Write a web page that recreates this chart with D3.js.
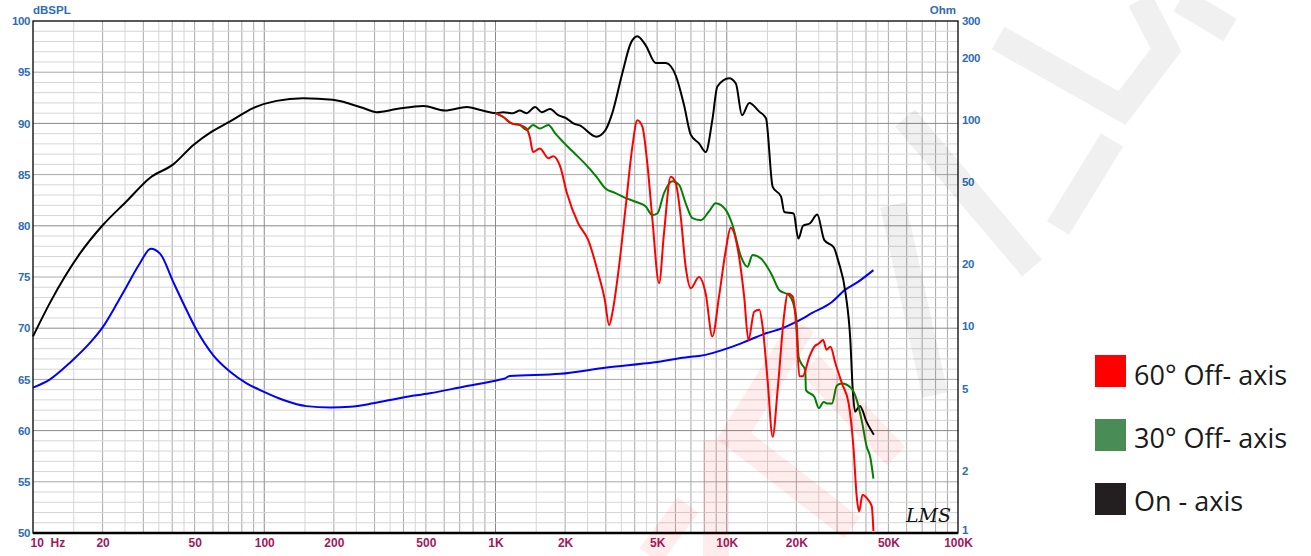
<!DOCTYPE html>
<html>
<head>
<meta charset="utf-8">
<script src="https://cdn.jsdelivr.net/npm/d3@7"></script>
<style>
  body { margin: 0; background: #fff; }
  svg { display: block; }
</style>
</head>
<body>
<svg id="chart" width="1311" height="556"></svg>
<script>
// on-axis response (Hz, dB)
var freqOn = [10, 11.85, 15.97, 20.1, 25.4, 32.1, 40.4, 49.4, 59.3, 71.2, 89.5, 113, 147, 198, 268, 306, 373, 488, 605, 753, 861, 1012, 1077, 1191, 1273, 1361, 1484, 1585, 1722, 1867, 2027, 2170, 2314, 2729, 2990, 3199, 3535, 3841, 4104, 4456, 4928, 5445, 6014, 6535, 6988, 7586, 8106, 8665, 9110, 10240, 10950, 11640, 12510, 13830, 14780, 15800, 17170, 17740, 19460, 20400, 21380, 22940, 24620, 26420, 29000, 30420, 32650, 34220, 35040, 35880, 37620, 40340, 43260];
var splOn = [69.2, 72.5, 77.3, 80.1, 82.4, 84.7, 86.0, 87.9, 89.2, 90.2, 91.5, 92.2, 92.45, 92.3, 91.5, 91.1, 91.4, 91.7, 91.25, 91.6, 91.3, 91.0, 91.1, 91.0, 91.25, 91.0, 91.6, 91.1, 91.4, 90.8, 90.5, 90.0, 89.8, 88.7, 89.35, 91.0, 94.9, 97.8, 98.5, 97.65, 95.9, 95.9, 94.7, 91.8, 88.9, 88.05, 87.2, 90.35, 93.6, 94.4, 93.9, 90.8, 92.0, 91.15, 90.5, 83.8, 82.85, 81.35, 81.2, 78.75, 80.0, 80.25, 81.1, 78.6, 77.9, 76.5, 73.4, 68.9, 64.1, 61.85, 62.4, 60.8, 59.6];

// 60 deg off-axis
var freq60 = [1000, 1077, 1173, 1273, 1361, 1406, 1454, 1555, 1693, 1779, 1904, 2036, 2277, 2518, 2782, 2968, 3100, 3199, 3420, 3657, 3906, 4104, 4313, 4534, 4770, 5099, 5355, 5726, 6014, 6323, 6644, 6988, 7586, 8106, 8665, 9260, 9900, 10400, 11300, 11890, 12410, 13140, 13830, 14290, 15020, 15800, 16600, 17740, 18340, 19270, 20040, 20600, 21290, 22760, 23920, 25010, 26110, 27000, 28090, 29480, 31500, 33670, 35300, 36480, 37350, 38620, 41000, 42380, 43080];
var spl60 = [91.0, 90.65, 90.0, 89.85, 89.5, 88.7, 87.2, 87.55, 86.6, 86.8, 85.8, 83.2, 80.25, 78.6, 75.35, 72.8, 70.3, 71.45, 76.0, 81.9, 87.7, 90.3, 89.7, 86.1, 80.6, 74.4, 79.3, 84.8, 84.2, 80.9, 76.0, 73.9, 75.0, 73.4, 69.2, 73.1, 77.6, 79.8, 77.0, 73.1, 68.85, 71.6, 71.8, 70.15, 64.9, 59.4, 64.0, 71.45, 73.4, 73.1, 69.8, 65.3, 65.3, 67.2, 68.2, 68.5, 68.85, 67.9, 68.2, 66.6, 64.6, 62.65, 58.4, 53.55, 52.1, 53.7, 53.2, 52.6, 50.2];

// 30 deg off-axis
var freq30 = [1000, 1077, 1173, 1273, 1361, 1454, 1555, 1693, 1816, 1958, 2170, 2477, 2729, 2990, 3304, 3657, 4036, 4456, 4770, 5013, 5355, 5818, 6220, 6644, 7106, 7719, 8380, 8958, 9900, 10580, 11520, 12290, 12930, 14060, 15550, 16890, 18660, 19940, 20460, 20950, 21850, 22000, 23920, 25010, 26250, 27150, 28500, 29940, 31500, 34700, 36480, 38330, 40320, 41710, 43080];
var spl30 = [91.0, 90.65, 90.0, 89.85, 89.35, 89.85, 89.5, 89.85, 89.0, 88.2, 87.2, 85.9, 84.8, 83.65, 83.2, 82.7, 82.35, 81.9, 81.05, 81.2, 83.2, 84.35, 84.0, 82.2, 80.75, 80.55, 81.4, 82.2, 81.55, 80.1, 77.0, 76.0, 77.15, 76.8, 75.35, 73.7, 73.2, 71.2, 67.2, 66.6, 65.9, 63.95, 63.3, 62.2, 62.8, 62.65, 62.65, 64.4, 64.6, 64.1, 63.0, 61.0, 58.4, 57.45, 55.3];

// impedance (Hz, Ohm)
var freqZ = [10, 11.85, 14.45, 17.66, 20.1, 22.25, 25.4, 29.0, 32.3, 35.5, 40.4, 44.7, 51.0, 60.1, 71.2, 83.9, 99.2, 121, 152, 193, 235, 296, 398, 520, 726, 1030, 1100, 1150, 1904, 3030, 4880, 6860, 7586, 10580, 12510, 14780, 17400, 19940, 23420, 28500, 32440, 36940, 43080];
var ohmZ = [5.05, 5.54, 6.67, 8.33, 9.96, 12.0, 15.6, 20.2, 23.7, 22.4, 16.4, 12.9, 9.6, 7.26, 6.03, 5.3, 4.83, 4.4, 4.11, 4.05, 4.08, 4.24, 4.53, 4.74, 5.1, 5.5, 5.6, 5.75, 5.89, 6.32, 6.7, 7.11, 7.18, 7.97, 8.59, 9.25, 9.78, 10.5, 11.6, 13.1, 15.0, 16.4, 18.7];

// axis labels
var splTicks = [50, 55, 60, 65, 70, 75, 80, 85, 90, 95, 100];
var ohmTicks = [1, 2, 5, 10, 20, 50, 100, 200, 300];
var freqTicks = [10, 20, 50, 100, 200, 500, 1000, 2000, 5000, 10000, 20000, 50000, 100000];
var freqLabels = ["10  Hz", "20", "50", "100", "200", "500", "1K", "2K", "5K", "10K", "20K", "50K", "100K"];

var legendNames = ["60° Off- axis", "30° Off- axis", "On - axis"];
var legendColors = ["#ff0000", "#4a8c56", "#231f20"];

var svg = d3.select("#chart");
var pLeft = 33, pRight = 958, pTop = 21, pBottom = 533;

var x = d3.scaleLog().domain([10, 100000]).range([pLeft, pRight]);
var y = d3.scaleLinear().domain([50, 100]).range([pBottom, pTop]);
var yZ = d3.scaleLog().domain([1, 300]).range([pBottom, pTop]);

// grid
var grid = svg.append("g");
var vlines = [];
[10, 100, 1000, 10000].forEach(function(d) {
  [1.5, 2.5, 3.5, 4.5].forEach(function(m) { vlines.push({f: d * m, c: "#d6d6d6"}); });
  [2, 3, 4, 5, 6, 7, 8, 9].forEach(function(m) { vlines.push({f: d * m, c: "#a9a9a9"}); });
  if (d > 10) vlines.push({f: d, c: "#8a8a8a"});
});
grid.selectAll("line.v").data(vlines).enter().append("line")
  .attr("x1", function(d) { return x(d.f); })
  .attr("x2", function(d) { return x(d.f); })
  .attr("y1", pTop).attr("y2", pBottom)
  .attr("stroke", function(d) { return d.c; })
  .attr("stroke-width", 1);

var hlines = d3.range(51, 100);
grid.selectAll("line.h").data(hlines).enter().append("line")
  .attr("x1", pLeft).attr("x2", pRight)
  .attr("y1", function(d) { return y(d); })
  .attr("y2", function(d) { return y(d); })
  .attr("stroke", function(d) { return d % 10 == 0 ? "#8a8a8a" : (d % 5 == 0 ? "#a9a9a9" : "#d6d6d6"); })
  .attr("stroke-width", 1);

// frame
svg.append("rect")
  .attr("x", pLeft).attr("y", pTop)
  .attr("width", pRight - pLeft).attr("height", pBottom - pTop)
  .attr("fill", "none").attr("stroke", "#000").attr("stroke-width", 1.3);
svg.append("line")
  .attr("x1", pLeft).attr("x2", pRight).attr("y1", pBottom).attr("y2", pBottom)
  .attr("stroke", "#000").attr("stroke-width", 2.5);

// axes (labels only)
var blue = "#2f6db3";
var lAxis = svg.append("g").attr("transform", "translate(" + pLeft + ",0)")
  .call(d3.axisLeft(y).tickValues(splTicks).tickSize(0).tickPadding(3));
lAxis.select(".domain").remove();
lAxis.selectAll("text").attr("fill", blue).style("font", "bold 11.5px 'Liberation Sans', Arial, sans-serif").attr("letter-spacing", "-0.4");

var rAxis = svg.append("g").attr("transform", "translate(" + pRight + ",0)")
  .call(d3.axisRight(yZ).tickValues(ohmTicks).tickFormat(d3.format("d")).tickSize(0).tickPadding(4));
rAxis.select(".domain").remove();
rAxis.selectAll("text").attr("fill", blue).style("font", "bold 11.5px 'Liberation Sans', Arial, sans-serif").attr("letter-spacing", "-0.4");
// lift the "1" label clear of the 100K label
rAxis.selectAll(".tick").filter(function(d) { return d == 1; }).select("text").attr("y", -3);

var bAxis = svg.append("g").attr("transform", "translate(0," + pBottom + ")")
  .call(d3.axisBottom(x).tickValues(freqTicks).tickFormat(function(d, i) { return freqLabels[i]; }).tickSize(0).tickPadding(5));
bAxis.select(".domain").remove();
bAxis.selectAll("text").attr("fill", "#a3175a").style("font", "bold 12px 'Liberation Sans', Arial, sans-serif")
  .style("white-space", "pre")
  .attr("text-anchor", function(d, i) { return i == 0 ? "start" : "middle"; })
  .attr("dx", function(d, i) { return i == 0 ? -3 : 0; });

svg.append("text").attr("x", pLeft).attr("y", 14).text("dBSPL")
  .attr("fill", blue).style("font", "bold 11.5px 'Liberation Sans', Arial, sans-serif");
svg.append("text").attr("x", pRight - 2).attr("y", 14).attr("text-anchor", "end").text("Ohm")
  .attr("fill", blue).style("font", "bold 11.5px 'Liberation Sans', Arial, sans-serif");

// curves
var plot = svg.append("g");
function splLine(freqs, vals, color) {
  var pts = freqs.map(function(f, i) { return [f, vals[i]]; });
  plot.append("path").datum(pts)
    .attr("fill", "none").attr("stroke", color).attr("stroke-width", 2)
    .attr("stroke-linejoin", "round")
    .attr("d", d3.line().curve(d3.curveMonotoneX)
      .x(function(d) { return x(d[0]); })
      .y(function(d) { return y(d[1]); }));
}
var zPts = freqZ.map(function(f, i) { return [f, ohmZ[i]]; });
plot.append("path").datum(zPts)
  .attr("fill", "none").attr("stroke", "#0000ff").attr("stroke-width", 2)
  .attr("d", d3.line().curve(d3.curveMonotoneX)
    .x(function(d) { return x(d[0]); })
    .y(function(d) { return yZ(d[1]); }));
splLine(freqOn, splOn, "#000000");
splLine(freq30, spl30, "#008000");
splLine(freq60, spl60, "#ff0000");

// LMS mark
svg.append("text").attr("x", 906).attr("y", 522).text("LMS")
  .style("font", "italic 19px 'DejaVu Serif', serif").attr("fill", "#111");

// watermark
var wm = svg.append("g").attr("fill", "none").attr("stroke-linecap", "butt").attr("stroke-width", 26);
var gray = [
  [[905, 118], [1032, 268]],
  [[893, 205], [935, 395]],
  [[998, 38], [1122, 108], [1166, 50], [1140, 0]],
  [[1058, 228], [1112, 140]],
  [[1180, 0], [1230, 30]]
];
var pink = [
  [[716, 440], [716, 556]],
  [[803, 325], [734, 436], [852, 528]],
  [[810, 365], [896, 456]],
  [[650, 556], [688, 505]]
];
var wl = d3.line();
wm.selectAll("path.g").data(gray).enter().append("path")
  .attr("d", wl).attr("stroke", "#000").attr("stroke-opacity", 0.06);
wm.selectAll("path.p").data(pink).enter().append("path")
  .attr("d", wl).attr("stroke", "#ff0000").attr("stroke-opacity", 0.07);

// legend
var legend = svg.append("g");
legend.selectAll("rect").data(legendNames).enter().append("rect")
  .attr("x", 1095).attr("y", function(d, i) { return 355 + i * 64; })
  .attr("width", 31).attr("height", 32)
  .attr("fill", function(d, i) { return legendColors[i]; });
legend.selectAll("text").data(legendNames).enter().append("text")
  .attr("x", 1134).attr("y", function(d, i) { return 385 + i * 63; })
  .text(function(d) { return d; })
  .attr("fill", "#1a1a1a")
  .style("font", "27px 'Open Sans', 'Noto Sans', sans-serif");
</script>
</body>
</html>
